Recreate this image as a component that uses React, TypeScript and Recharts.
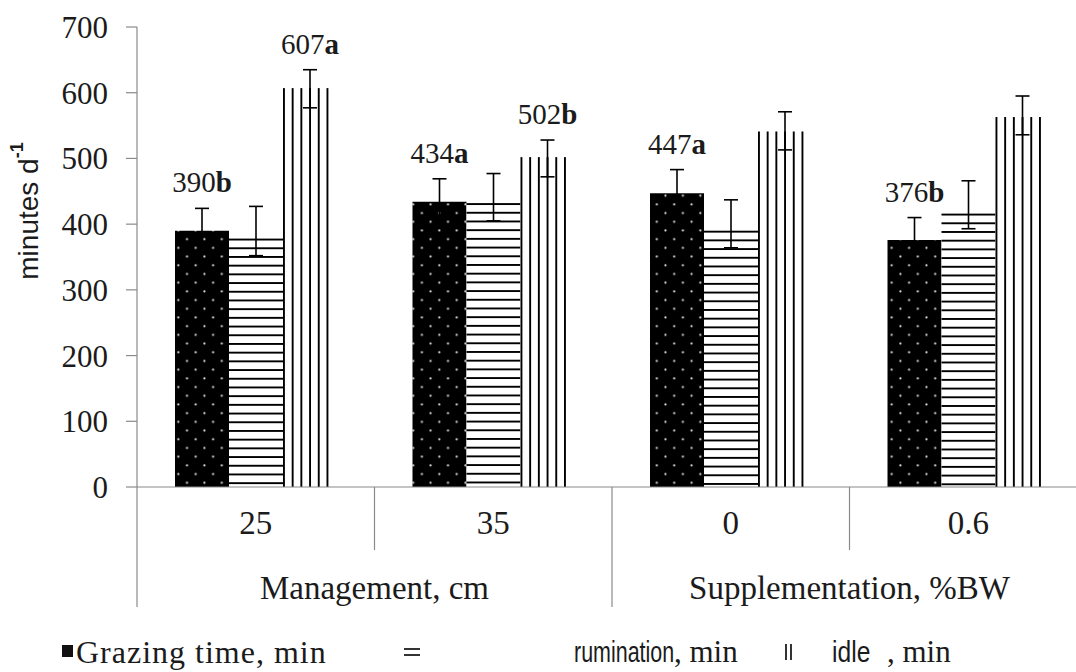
import React from 'react';
import { BarChart, Bar, XAxis, YAxis, ErrorBar, LabelList, Label } from 'recharts';

// Treatment levels and the factor each one belongs to
const levels = ['25', '35', '0', '0.6'];
const factors = ['Management, cm', 'Management, cm', 'Supplementation, %BW', 'Supplementation, %BW'];

// Grazing time (min/d), its error range [below, above] and significance letters
const grazing = [390, 434, 447, 376];
const grazingErr = [[34, 34], [35, 35], [36, 36], [34, 34]];
const grazingLetters = ['b', 'a', 'a', 'b'];

// Rumination time (min/d)
const rumination = [378, 432, 390, 416];
const ruminationErr = [[26, 49], [27, 45], [26, 47], [23, 50]];

// Idle time (min/d)
const idle = [607, 502, 541, 563];
const idleErr = [[30, 28], [30, 26], [28, 30], [27, 32]];
const idleLetters = ['a', 'b', '', ''];

const yTicks = [0, 100, 200, 300, 400, 500, 600, 700];

const data = levels.map((level, i) => ({
  level,
  factor: factors[i],
  grazing: grazing[i],
  grazingErr: grazingErr[i],
  rumination: rumination[i],
  ruminationErr: ruminationErr[i],
  idle: idle[i],
  idleErr: idleErr[i],
}));

const CHART_W = 1100;
const CHART_H = 672;
const MARGIN = { top: 27, right: 13, bottom: 65, left: 0 };
const Y_AXIS_W = 137;
const X_AXIS_H = 120;
const PLOT_W = CHART_W - MARGIN.left - MARGIN.right - Y_AXIS_W;
const HALF_BAND = PLOT_W / levels.length / 2;

const SERIF = "'Liberation Serif', 'Times New Roman', serif";
const SANS = "'Liberation Sans', Arial, sans-serif";
const AXIS_GREY = '#8a8a8a';
const INK = '#1b1b1b';

const STRIPE_STEP = 8.7;
const STRIPE_W = 1.9;

// Hatched bar: white fill with black stripes starting at the bar's top (horizontal)
// or left edge (vertical), so every bar begins with a stripe.
const makeStripedBar = (direction: 'h' | 'v') => (props: any) => {
  const x = Number(props.x);
  const y = Number(props.y);
  const width = Number(props.width);
  const height = Number(props.height);
  if (!(width > 0) || !(height > 0)) return null;
  const stripes = [];
  if (direction === 'h') {
    for (let k = 0; y + k * STRIPE_STEP < y + height - 0.5; k++) {
      stripes.push(
        <rect key={k} x={x} y={y + k * STRIPE_STEP} width={width} height={STRIPE_W} fill="#000" />
      );
    }
  } else {
    for (let k = 0; x + k * STRIPE_STEP < x + width - 2; k++) {
      stripes.push(
        <rect key={k} x={x + k * STRIPE_STEP} y={y} width={STRIPE_W} height={height} fill="#000" />
      );
    }
  }
  return (
    <g>
      <rect x={x} y={y} width={width} height={height} fill="#fff" />
      {stripes}
    </g>
  );
};

const HorizontalHatch = makeStripedBar('h');
const VerticalHatch = makeStripedBar('v');

// Value label: the bar's value in regular type followed by a bold letter,
// set a little above the top of the error bar.
const makeValueLabel = (letters: string[], errs: number[][]) => (props: any) => {
  const { x, y, width, height, value, index } = props;
  const letter = letters[index];
  if (!letter) return null;
  const pxPerUnit = Number(height) / Number(value);
  const top = Number(y) - errs[index][1] * pxPerUnit;
  return (
    <text
      x={Number(x) + Number(width) / 2}
      y={top - 16}
      textAnchor="middle"
      fontFamily={SERIF}
      fontSize={29}
      fill={INK}
    >
      <tspan>{value}</tspan>
      <tspan fontWeight="bold">{letter}</tspan>
    </text>
  );
};

// Category tick: level label, divider lines between levels and the factor label under each pair
const CategoryTick = (props: any) => {
  const { x, y, payload } = props;
  const i: number = props.index ?? payload.index ?? levels.indexOf(payload.value);
  const left = x - HALF_BAND;
  const startsGroup = i === 0 || factors[i] !== factors[i - 1];
  const isLast = i === levels.length - 1;
  let groupLabel = null;
  if (startsGroup) {
    let n = 1;
    while (i + n < factors.length && factors[i + n] === factors[i]) n++;
    groupLabel = (
      <text
        x={left + n * HALF_BAND}
        y={y + 112}
        textAnchor="middle"
        fontFamily={SERIF}
        fontSize={33}
        fill={INK}
      >
        {factors[i]}
      </text>
    );
  }
  return (
    <g>
      <line x1={left} y1={y} x2={left} y2={y + (startsGroup ? 120 : 63)} stroke={AXIS_GREY} strokeWidth={1.2} />
      {isLast && (
        <line x1={x + HALF_BAND} y1={y} x2={x + HALF_BAND} y2={y + 120} stroke={AXIS_GREY} strokeWidth={1.2} />
      )}
      <text x={x} y={y + 47} textAnchor="middle" fontFamily={SERIF} fontSize={33} fill={INK}>
        {payload.value}
      </text>
      {groupLabel}
    </g>
  );
};

const YTitle = (props: any) => {
  const vb = props.viewBox || { x: 0, y: MARGIN.top, height: 460 };
  const cx = vb.x + 28;
  const cy = vb.y + vb.height * 0.4;
  return (
    <text
      x={cx}
      y={cy}
      transform={`rotate(-90, ${cx}, ${cy})`}
      textAnchor="middle"
      dominantBaseline="central"
      fontFamily={SANS}
      fontSize={28}
      fill={INK}
    >
      <tspan>minutes d</tspan>
      <tspan dy={-11} fontSize={18} fontWeight="bold">-1</tspan>
    </text>
  );
};

const legendText: React.CSSProperties = {
  position: 'absolute',
  top: 0,
  lineHeight: '44px',
  whiteSpace: 'nowrap',
  color: INK,
};

const narrow = (left: number, scale: number): React.CSSProperties => ({
  ...legendText,
  left,
  fontFamily: SANS,
  fontSize: 29,
  transform: `scaleX(${scale})`,
  transformOrigin: 'left center',
});

const SeriesLegend = () => (
  <div style={{ position: 'absolute', left: 0, top: 630, width: 1076, height: 44 }}>
    <div style={{ position: 'absolute', left: 62, top: 15, width: 11, height: 12, background: '#111' }} />
    <span style={{ ...legendText, left: 76, fontFamily: SERIF, fontSize: 32, letterSpacing: 1 }}>
      Grazing time, min
    </span>
    <svg style={{ position: 'absolute', left: 404, top: 15 }} width={16} height={14}>
      <rect x={0} y={3} width={16} height={2} fill="#333" />
      <rect x={0} y={9} width={16} height={2} fill="#333" />
    </svg>
    <span style={narrow(574, 0.74)}>rumination</span>
    <span style={{ ...legendText, left: 674, fontFamily: SERIF, fontSize: 31 }}>, min</span>
    <svg style={{ position: 'absolute', left: 784, top: 14 }} width={10} height={16}>
      <rect x={1} y={0} width={2} height={16} fill="#333" />
      <rect x={6} y={0} width={2} height={16} fill="#333" />
    </svg>
    <span style={narrow(832, 0.85)}>idle</span>
    <span style={{ ...legendText, left: 887, fontFamily: SERIF, fontSize: 31 }}>, min</span>
  </div>
);

export default function App() {
  return (
    <div
      style={{
        position: 'absolute',
        left: 0,
        top: 0,
        width: 1076,
        height: 672,
        overflow: 'hidden',
        background: '#fff',
      }}
    >
      <BarChart
        width={CHART_W}
        height={CHART_H}
        data={data}
        margin={MARGIN}
        barCategoryGap="16%"
        barGap={0}
      >
        <defs>
          <pattern id="dotFill" width={17.4} height={17.4} patternUnits="userSpaceOnUse">
            <rect width={17.4} height={17.4} fill="#000" />
            <circle cx={4.3} cy={4.3} r={1.1} fill="#e0e0e0" />
            <circle cx={13} cy={13} r={1.1} fill="#e0e0e0" />
          </pattern>
        </defs>
        <XAxis
          dataKey="level"
          height={X_AXIS_H}
          axisLine={{ stroke: AXIS_GREY, strokeWidth: 1.2 }}
          tickLine={false}
          tickSize={0}
          tickMargin={0}
          interval={0}
          tick={<CategoryTick />}
        />
        <YAxis
          width={Y_AXIS_W}
          domain={[0, 700]}
          ticks={yTicks}
          interval={0}
          axisLine={{ stroke: AXIS_GREY, strokeWidth: 1.2 }}
          tickLine={{ stroke: AXIS_GREY, strokeWidth: 1.2 }}
          tickSize={11}
          tickMargin={18}
          tick={{ fontFamily: SERIF, fontSize: 31, fill: INK }}
        >
          <Label content={<YTitle />} />
        </YAxis>
        <Bar dataKey="grazing" fill="url(#dotFill)" isAnimationActive={false}>
          <ErrorBar dataKey="grazingErr" width={7} stroke="#000" strokeWidth={1.6} />
          <LabelList dataKey="grazing" content={makeValueLabel(grazingLetters, grazingErr)} />
        </Bar>
        <Bar dataKey="rumination" shape={HorizontalHatch} isAnimationActive={false}>
          <ErrorBar dataKey="ruminationErr" width={7} stroke="#000" strokeWidth={1.6} />
        </Bar>
        <Bar dataKey="idle" shape={VerticalHatch} isAnimationActive={false}>
          <ErrorBar dataKey="idleErr" width={7} stroke="#000" strokeWidth={1.6} />
          <LabelList dataKey="idle" content={makeValueLabel(idleLetters, idleErr)} />
        </Bar>
      </BarChart>
      <SeriesLegend />
    </div>
  );
}
